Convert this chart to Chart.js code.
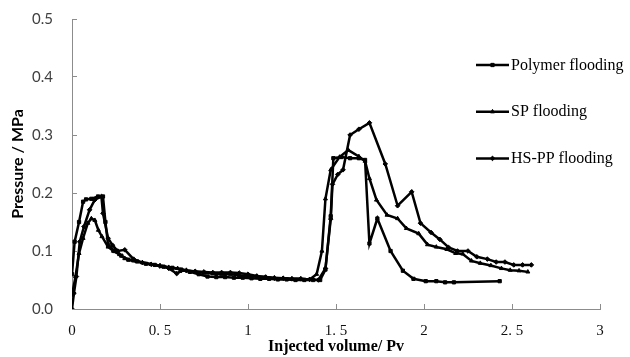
<!DOCTYPE html>
<html>
<head>
<meta charset="utf-8">
<script src="https://cdn.jsdelivr.net/npm/chart.js@4.4.0/dist/chart.umd.min.js"></script>
<style>
  html, body { margin: 0; padding: 0; background: #fff; }
</style>
</head>
<body>
<canvas id="pressureChart" width="630" height="357"></canvas>
<script>
"use strict";

// ── data ──
const seriesNames = ["Polymer flooding", "SP flooding", "HS-PP flooding"];

const polymerX = [0, 0.015, 0.04, 0.063, 0.08, 0.11, 0.148, 0.176, 0.19, 0.205,
  0.24, 0.28, 0.32, 0.37, 0.42, 0.47, 0.52, 0.57, 0.62, 0.67,
  0.72, 0.77, 0.82, 0.87, 0.92, 0.97, 1.02, 1.07, 1.12, 1.17,
  1.22, 1.27, 1.32, 1.37, 1.41, 1.44, 1.47, 1.485, 1.53, 1.58,
  1.63, 1.665, 1.69, 1.735, 1.81, 1.88, 1.94, 2.01, 2.07, 2.12,
  2.17, 2.43];
const polymerY = [0.06, 0.116, 0.15, 0.185, 0.189, 0.19, 0.194, 0.194, 0.15, 0.11,
  0.1, 0.092, 0.085, 0.082, 0.078, 0.076, 0.073, 0.071, 0.068, 0.064,
  0.06, 0.056, 0.055, 0.055, 0.054, 0.054, 0.053, 0.052, 0.052, 0.051,
  0.051, 0.05, 0.05, 0.05, 0.05, 0.068, 0.16, 0.26, 0.262, 0.26,
  0.26, 0.257, 0.113, 0.156, 0.10, 0.066, 0.052, 0.048, 0.048, 0.046,
  0.046, 0.048];

const spX = [0, 0.02, 0.04, 0.063, 0.09, 0.11, 0.13, 0.15, 0.17, 0.205,
  0.235, 0.27, 0.3, 0.35, 0.4, 0.45, 0.5, 0.55, 0.6, 0.65,
  0.7, 0.75, 0.8, 0.85, 0.9, 0.95, 1.0, 1.05, 1.1, 1.15,
  1.2, 1.25, 1.3, 1.35, 1.39, 1.42, 1.44, 1.47, 1.52, 1.57,
  1.63, 1.665, 1.69, 1.73, 1.79, 1.85, 1.90, 1.97, 2.02, 2.07,
  2.13, 2.18, 2.22, 2.27, 2.32, 2.38, 2.44, 2.49, 2.54, 2.59];
const spY = [0.024, 0.056, 0.096, 0.122, 0.148, 0.156, 0.153, 0.136, 0.125, 0.107,
  0.1, 0.094, 0.087, 0.083, 0.08, 0.077, 0.075, 0.072, 0.07, 0.067,
  0.064, 0.062, 0.061, 0.06, 0.06, 0.058, 0.057, 0.056, 0.055, 0.054,
  0.053, 0.052, 0.052, 0.051, 0.06, 0.10, 0.19, 0.24, 0.262, 0.274,
  0.263, 0.255, 0.225, 0.188, 0.162, 0.156, 0.139, 0.13, 0.111, 0.107,
  0.103, 0.096, 0.095, 0.083, 0.079, 0.075, 0.07, 0.067, 0.066, 0.064];

const hsppX = [0, 0.011, 0.025, 0.044, 0.068, 0.1, 0.129, 0.167, 0.176, 0.205,
  0.23, 0.26, 0.3, 0.35, 0.4, 0.45, 0.5, 0.55, 0.595, 0.62,
  0.65, 0.7, 0.75, 0.8, 0.85, 0.9, 0.95, 1.0, 1.05, 1.1,
  1.15, 1.2, 1.25, 1.3, 1.35, 1.40, 1.44, 1.47, 1.48, 1.51,
  1.54, 1.58, 1.63, 1.69, 1.78, 1.85, 1.93, 1.98, 2.04, 2.09,
  2.14, 2.19, 2.25, 2.30, 2.36, 2.41, 2.46, 2.51, 2.56, 2.61];
const hsppY = [0, 0.027, 0.056, 0.116, 0.142, 0.171, 0.188, 0.194, 0.165, 0.122,
  0.11, 0.1, 0.102, 0.086, 0.08, 0.077, 0.074, 0.07, 0.061, 0.066,
  0.066, 0.065, 0.064, 0.063, 0.063, 0.063, 0.062, 0.06, 0.057, 0.055,
  0.053, 0.053, 0.052, 0.052, 0.051, 0.05, 0.07, 0.155, 0.215, 0.232,
  0.24, 0.30, 0.31, 0.321, 0.25, 0.178, 0.202, 0.148, 0.132, 0.12,
  0.106, 0.1, 0.1, 0.09, 0.086, 0.081, 0.081, 0.076, 0.076, 0.076];

const xTicks = [0, 0.5, 1, 1.5, 2, 2.5, 3];
const yTicks = [0, 0.1, 0.2, 0.3, 0.4, 0.5];

const pts = (xs, ys) => xs.map((x, i) => ({ x, y: ys[i] }));

// legend drawn on the right, inside the plot (like the original)
const sideLegend = {
  id: "sideLegend",
  afterDraw(chart) {
    const ctx = chart.ctx;
    chart.data.datasets.forEach((ds, i) => {
      const y = 65 + i * 46.7;
      ctx.save();
      ctx.strokeStyle = "#000";
      ctx.fillStyle = "#000";
      ctx.lineWidth = 2.5;
      ctx.beginPath();
      ctx.moveTo(476, y);
      ctx.lineTo(509, y);
      ctx.stroke();
      ctx.lineWidth = 1;
      Chart.helpers.drawPoint(ctx, { pointStyle: ds.pointStyle, radius: 2.3, borderWidth: 1, rotation: 0 }, 492.5, y);
      ctx.font = "16px 'Liberation Serif', serif";
      ctx.textBaseline = "middle";
      ctx.textAlign = "left";
      ctx.fillText(ds.label, 511, y + 0.5);
      ctx.restore();
    });
  }
};

function mkSet(label, data, style) {
  return {
    label, data,
    borderColor: "#000", backgroundColor: "#000",
    borderWidth: 2.5, tension: 0,
    pointStyle: style, pointRadius: 2.3,
    pointBackgroundColor: "#000", pointBorderColor: "#000", pointBorderWidth: 1
  };
}

// keep the plot box where the original has it (tick padding would push it down)
function noOverflow(s) {
  s.paddingTop = 0; s.paddingBottom = 0;
  s.paddingLeft = 0; s.paddingRight = 0;
}

new Chart(document.getElementById("pressureChart"), {
  type: "line",
  data: {
    datasets: [
      mkSet(seriesNames[0], pts(polymerX, polymerY), "rect"),
      mkSet(seriesNames[1], pts(spX, spY), "triangle"),
      mkSet(seriesNames[2], pts(hsppX, hsppY), "rectRot")
    ]
  },
  options: {
    responsive: false,
    animation: false,
    layout: { padding: { left: 8, right: 30, top: 19, bottom: 0 } },
    plugins: { legend: { display: false }, tooltip: { enabled: false } },
    scales: {
      x: {
        type: "linear", min: 0, max: 3,
        afterBuildTicks: s => { s.ticks = xTicks.map(v => ({ value: v })); },
        afterFit: s => { s.height = 48; noOverflow(s); },
        border: { color: "#8c8c8c", width: 1 },
        grid: { drawOnChartArea: false, color: "#8c8c8c", tickLength: -5 },
        ticks: {
          padding: 18, color: "#111",
          font: { family: "'Liberation Serif', serif", size: 15 },
          callback: v => String(v).replace(".", ". ")
        },
        title: {
          display: true, text: "Injected volume/ Pv", color: "#000",
          padding: { top: 0, bottom: 1 },
          font: { family: "'Liberation Serif', serif", size: 16, weight: "bold" }
        }
      },
      y: {
        min: 0, max: 0.5,
        afterBuildTicks: s => { s.ticks = yTicks.map(v => ({ value: v })); },
        afterFit: s => { s.width = 64; noOverflow(s); },
        border: { color: "#8c8c8c", width: 1 },
        grid: { drawOnChartArea: false, color: "#8c8c8c", tickLength: -5 },
        ticks: {
          padding: 24, color: "#404040",
          font: { family: "Lato, sans-serif", size: 15 },
          callback: v => v.toFixed(1)
        },
        title: {
          display: true, text: "Pressure / MPa", color: "#000",
          padding: { top: 0, bottom: 0 },
          font: { family: "Lato, sans-serif", size: 16, weight: "bold" }
        }
      }
    }
  },
  plugins: [sideLegend]
});
</script>
</body>
</html>
